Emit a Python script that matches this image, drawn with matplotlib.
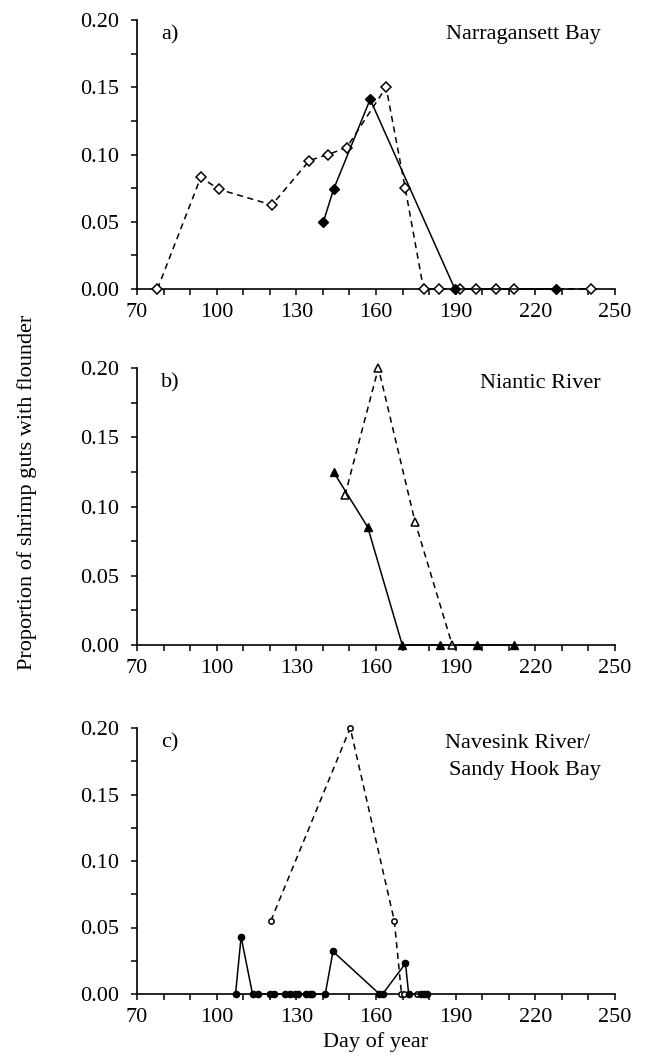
import numpy as np
import matplotlib.pyplot as plt
from matplotlib.ticker import MultipleLocator

plt.rcParams['font.family'] = ['Liberation Serif', 'DejaVu Serif']

# a) Narragansett Bay
nb_open_day = [77.7, 94, 101, 120.8, 134.9, 141.9, 148.9, 163.8, 171, 177.9, 183.9, 191.8, 197.8, 205, 211.9, 240.9]
nb_open_val = [0, 0.083, 0.074, 0.0625, 0.0955, 0.100, 0.105, 0.150, 0.075, 0, 0, 0, 0, 0, 0, 0]
nb_fill_day = [140.2, 144, 157.8, 189.7, 227.9]
nb_fill_val = [0.050, 0.074, 0.141, 0, 0]

# b) Niantic River
nr_open_day = [148.3, 160.9, 174.7, 188.7]
nr_open_val = [0.108, 0.200, 0.089, 0]
nr_fill_day = [144, 156.9, 169.9, 184.1, 198, 212]
nr_fill_val = [0.125, 0.085, 0, 0, 0, 0]

# c) Navesink River / Sandy Hook Bay
nv_open_day = [120.4, 150.3, 166.9, 169.6, 170.6, 175.6, 177.3]
nv_open_val = [0.055, 0.200, 0.055, 0, 0, 0, 0]
nv_fill_day = [107.1, 109.2, 113.5, 115.6, 120, 121.6, 125.6, 127.5, 129.4, 130.6, 133.8, 135, 135.9,
               140.9, 143.8, 161.3, 162.5, 171.1, 172.3, 176.8, 178, 179.2]
nv_fill_val = [0, 0.043, 0, 0, 0, 0, 0, 0, 0, 0, 0, 0, 0,
               0, 0.032, 0, 0, 0.023, 0, 0, 0, 0]

x_ticks = [70, 100, 130, 160, 190, 220, 250]
y_ticks = [0.00, 0.05, 0.10, 0.15, 0.20]

panels = [
    ('a)', ['Narragansett Bay'], 'D', 5, nb_open_day, nb_open_val, nb_fill_day, nb_fill_val),
    ('b)', ['Niantic River'], '^', 6, nr_open_day, nr_open_val, nr_fill_day, nr_fill_val),
    ('c)', ['Navesink River/', 'Sandy Hook Bay'], 'o', 4.5, nv_open_day, nv_open_val, nv_fill_day, nv_fill_val),
]

fig = plt.figure(figsize=(6.52, 10.56), dpi=100)
W, H = 652, 1056
boxes = [(20, 289), (368, 645), (728, 994)]

for (tag, names, mk, ms, od, ov, fd, fv), (top, bot) in zip(panels, boxes):
    ax = fig.add_axes([137 / W, 1 - bot / H, 478 / W, (bot - top) / H])
    ms_open = ms * 0.85 if mk == 'o' else ms
    ax.plot(od, ov, color='black', ls=(0, (4, 3)), lw=1.1, marker=mk, ms=ms_open,
            mfc='white', mec='black', mew=1.1, clip_on=False, zorder=3)
    ax.plot(fd, fv, color='black', ls='-', lw=1.1, marker=mk, ms=ms,
            mfc='black', mec='black', clip_on=False, zorder=4)
    ax.set_xlim(70, 250)
    ax.set_ylim(0, 0.2)
    ax.set_xticks(x_ticks)
    ax.xaxis.set_minor_locator(MultipleLocator(10))
    ax.set_yticks(y_ticks)
    ax.yaxis.set_minor_locator(MultipleLocator(0.025))
    ax.yaxis.set_major_formatter(plt.FormatStrFormatter('%.2f'))
    for s in ('top', 'right'):
        ax.spines[s].set_visible(False)
    for s in ('left', 'bottom'):
        ax.spines[s].set_linewidth(1.2)
    ax.tick_params(axis='both', which='both', direction='out', length=4, width=1.1, labelsize=16)
    ax.tick_params(axis='y', pad=9)
    ax.tick_params(axis='x', pad=6)
    h = bot - top
    ax.text(0.05, 1 - 15 / h, tag, transform=ax.transAxes, fontsize=16, ha='left', va='center')
    for i, nm in enumerate(names):
        xr = 0.97 if i == len(names) - 1 else 0.947
        ax.text(xr, 1 - (15 + 28 * i) / h, nm, transform=ax.transAxes, fontsize=16,
                ha='right', va='center')
    if tag == 'c)':
        ax.set_xlabel('Day of year', fontsize=16, labelpad=4)

fig.text(27 / W, 1 - 492 / H, 'Proportion of shrimp guts with flounder', rotation=90,
         fontsize=16, ha='center', va='center')

plt.savefig('out.png', dpi=100)
